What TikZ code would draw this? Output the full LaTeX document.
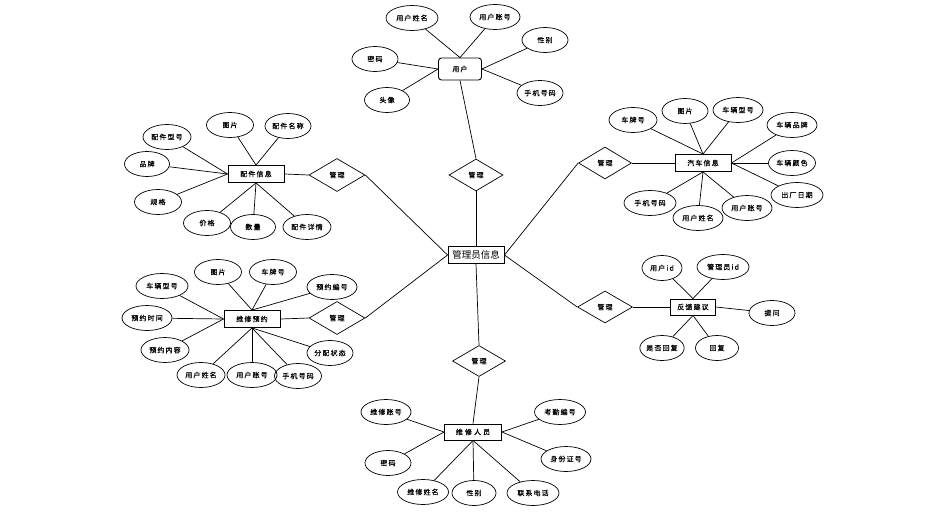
\documentclass[tikz,border=0pt]{standalone}
\usepackage{fontspec}
\setmainfont{Noto Sans CJK SC}
\newfontfamily\cnfont[LetterSpace=16,FakeBold=0.4]{Noto Sans CJK SC}
\newfontfamily\cnwide[LetterSpace=30,FakeBold=0.4]{Noto Sans CJK SC}
\usetikzlibrary{shapes.geometric}
\tikzset{
  entity/.style={
    rectangle,
    draw=black, line width=0.9pt,
    minimum width=56pt,
    minimum height=17pt,
    inner sep=1pt,
    fill=white,
    font=\cnfont\fontsize{7}{8}\selectfont},
  attr/.style={
    ellipse,
    draw=black, line width=0.7pt,
    minimum width=48pt,
    minimum height=25pt,
    inner sep=0pt,
    font=\cnfont\fontsize{7}{8}\selectfont},
  rel/.style={
    diamond,
    draw=black, line width=0.7pt,
    minimum width=54pt,
    minimum height=32pt,
    inner sep=0pt,
    font=\cnfont\fontsize{7}{8}\selectfont},
  line/.style={draw, line width=0.7pt},
}
\begin{document}
\begin{tikzpicture}[x=1pt,y=-1pt]
  \useasboundingbox (0,0) rectangle (932,519);
  % centre
  \node[entity, minimum height=17pt, font=\fontsize{9.5}{11}\selectfont] (admin) at (476,255) {管理员信息};
  % user
  \node[entity, rounded corners=3pt, minimum width=43pt, minimum height=22pt] (user) at (460,69) {用户};
  \node[attr, minimum width=52pt] (u-name) at (412,18) {用户姓名};
  \node[attr, minimum width=50pt] (u-acc) at (495,17) {用户账号};
  \node[attr, minimum width=46pt] (u-sex) at (545,40) {性别};
  \node[attr, minimum width=46pt] (u-tel) at (540,93) {手机号码};
  \node[attr, minimum width=46pt] (u-pwd) at (375,59) {密码};
  \node[attr, minimum width=45pt] (u-img) at (387,100) {头像};
  \node[rel] (r-user) at (476,175) {管理};
  % parts
  \node[entity] (part) at (256,174) {配件信息};
  \node[attr, minimum width=47pt] (p-img) at (230,125) {图片};
  \node[attr, minimum width=46pt] (p-name) at (288,126) {配件名称};
  \node[attr] (p-type) at (167,137) {配件型号};
  \node[attr, minimum width=45pt] (p-brand) at (147,164) {品牌};
  \node[attr, minimum width=47pt] (p-spec) at (158,202) {规格};
  \node[attr, minimum width=47pt] (p-price) at (207,223) {价格};
  \node[attr, minimum width=45pt] (p-num) at (253,227) {数量};
  \node[attr] (p-info) at (307,227) {配件详情};
  \node[rel, minimum width=56pt, minimum height=33pt] (r-part) at (337,175) {管理};
  % reservation
  \node[entity] (resv) at (252,319) {维修预约};
  \node[attr, minimum width=47pt] (v-img) at (218,272) {图片};
  \node[attr, minimum width=47pt] (v-plate) at (273,272) {车牌号};
  \node[attr, minimum width=52pt] (v-type) at (162,286) {车辆型号};
  \node[attr, minimum width=50pt] (v-no) at (332,287) {预约编号};
  \node[attr, minimum width=50pt] (v-time) at (147,318) {预约时间};
  \node[attr] (v-text) at (165,350) {预约内容};
  \node[attr, minimum width=46pt] (v-state) at (330,353) {分配状态};
  \node[attr] (v-name) at (201,375) {用户姓名};
  \node[attr, minimum width=50pt] (v-acc) at (252,375) {用户账号};
  \node[attr, minimum width=47pt] (v-tel) at (298,376) {手机号码};
  \node[rel, minimum width=56pt, minimum height=33pt] (r-resv) at (337,318) {管理};
  % car
  \node[entity] (car) at (703,163) {汽车信息};
  \node[attr] (c-plate) at (633,120) {车牌号};
  \node[attr, minimum width=46pt] (c-img) at (685,111) {图片};
  \node[attr, minimum width=50pt] (c-type) at (738,110) {车辆型号};
  \node[attr, minimum width=50pt] (c-brand) at (792,125) {车辆品牌};
  \node[attr, minimum width=47pt] (c-color) at (792,163) {车辆颜色};
  \node[attr, minimum width=52pt] (c-date) at (797,195) {出厂日期};
  \node[attr, minimum width=52pt] (c-tel) at (650,203) {手机号码};
  \node[attr, minimum width=50pt] (c-name) at (698,218) {用户姓名};
  \node[attr, minimum width=50pt] (c-acc) at (747,208) {用户账号};
  \node[rel, minimum width=53pt] (r-car) at (605,163) {管理};
  % feedback
  \node[entity, minimum width=45pt, minimum height=16pt] (fb) at (693,307) {反馈建议};
  \node[attr, minimum width=40pt] (f-uid) at (662,268) {用户id};
  \node[attr, minimum width=52pt] (f-aid) at (723,267) {管理员id};
  \node[attr, minimum width=46pt] (f-ask) at (772,313) {提问};
  \node[attr, minimum width=44pt] (f-ifre) at (662,348) {是否回复};
  \node[attr, minimum width=43pt] (f-re) at (717,348) {回复};
  \node[rel, minimum width=55pt] (r-fb) at (605,307) {管理};
  % staff
  \node[entity, minimum width=57pt, minimum height=16pt, font=\cnwide\fontsize{7}{8}\selectfont] (staff) at (473,432) {维修人员};
  \node[attr, minimum width=50pt] (s-acc) at (386,412) {维修账号};
  \node[attr, minimum width=51pt] (s-no) at (560,412) {考勤编号};
  \node[attr, minimum width=46pt] (s-pwd) at (388,463) {密码};
  \node[attr, minimum width=50pt] (s-id) at (566,459) {身份证号};
  \node[attr, minimum width=51pt] (s-name) at (423,492) {维修姓名};
  \node[attr, minimum width=44pt] (s-sex) at (474,493) {性别};
  \node[attr, minimum width=52pt] (s-tel) at (533,493) {联系电话};
  \node[rel, minimum width=53pt, minimum height=31pt] (r-staff) at (479,361) {管理};

  % attribute links
  \foreach \a/\b in {u-name/user.north, u-acc/user.north, u-pwd/user.west, u-img/user.west,
      u-sex/user.east, u-tel/user.east,
      p-img/part.north, p-name/part.north, p-type/part.west, p-brand/part.west, p-spec/part.west,
      p-price/part.south, p-num/part.south, p-info/part.south,
      v-img/resv.north, v-plate/resv.north, v-no/resv.north, v-type/resv.west, v-time/resv.west,
      v-text/resv.west, v-state/resv.south, v-name/resv.south, v-acc/resv.south, v-tel/resv.south,
      c-plate/car.north, c-img/car.north, c-type/car.north, c-brand/car.east, c-color/car.east,
      c-date/car.east, c-tel/car.south, c-name/car.south, c-acc/car.south,
      f-uid/fb.north, f-aid/fb.north, f-ask/fb.east, f-ifre/fb.south, f-re/fb.south,
      s-acc/staff.west, s-pwd/staff.west, s-no/staff.east, s-id/staff.east,
      s-name/staff.south, s-sex/staff.south, s-tel/staff.south}
    \draw[line] (\a) -- (\b);

  % relations
  \draw[line] (user.south) -- (r-user.north);
  \draw[line] (r-user.south) -- (admin.north);
  \draw[line] (part.east) -- (r-part.west);
  \draw[line] (r-part.east) -- (admin.west);
  \draw[line] (resv.east) -- (r-resv.west);
  \draw[line] (r-resv.east) -- (admin.west);
  \draw[line] (car.west) -- (r-car.east);
  \draw[line] (r-car.west) -- (admin.east);
  \draw[line] (fb.west) -- (r-fb.east);
  \draw[line] (r-fb.west) -- (admin.east);
  \draw[line] (admin.south) -- (r-staff.north);
  \draw[line] (r-staff.south) -- (staff.north);
\end{tikzpicture}
\end{document}
